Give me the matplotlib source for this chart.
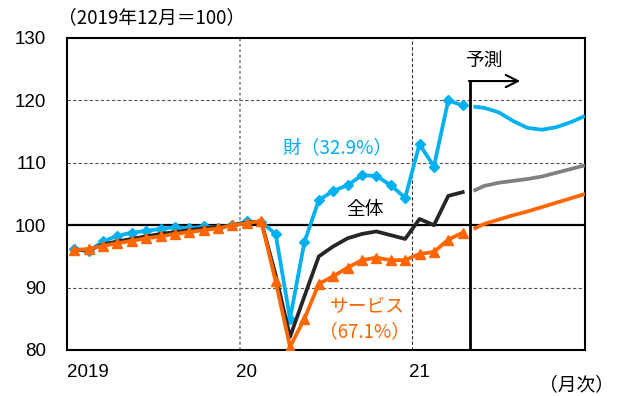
import matplotlib
matplotlib.use("Agg")
import matplotlib.pyplot as plt

plt.rcParams['font.family'] = ['Liberation Sans', 'Noto Sans CJK JP', 'DejaVu Sans']
JP = ['Noto Sans CJK JP', 'DejaVu Sans']

# Monthly index: 0 = 2019-01 ... 27 = 2021-04
months = list(range(28))
goods = [96.2, 95.8, 97.4, 98.3, 98.8, 99.1, 99.4, 99.7, 99.5, 99.8, 99.6, 100.0,
         100.6, 100.5, 98.6, 85.0, 97.3, 104.0, 105.5, 106.4, 108.0, 107.9, 106.4, 104.4,
         113.0, 109.4, 120.0, 119.2]
services = [96.0, 96.2, 96.7, 97.1, 97.5, 97.9, 98.2, 98.6, 98.9, 99.2, 99.5, 100.0,
            100.3, 100.7, 91.0, 80.5, 85.0, 90.6, 91.8, 93.2, 94.4, 94.8, 94.4, 94.4,
            95.4, 95.7, 97.7, 98.8]
total = [96.1, 96.0, 96.9, 97.4, 97.8, 98.2, 98.6, 98.9, 99.2, 99.5, 99.7, 100.0,
         100.4, 100.6, 92.0, 82.1, 88.6, 95.0, 96.6, 97.9, 98.6, 99.0, 98.4, 97.8,
         101.0, 100.0, 104.7, 105.3]

# Forecast (months as fractional index)
fc_x = [27.75, 28.5, 29.5, 30.5, 31.5, 32.5, 33.5, 34.5, 35.5]
fc_goods = [119.0, 118.8, 118.1, 116.7, 115.6, 115.3, 115.7, 116.5, 117.5]
fc_total = [105.5, 106.3, 106.8, 107.1, 107.4, 107.8, 108.4, 109.0, 109.6]
fc_services = [99.4, 100.2, 100.9, 101.6, 102.2, 102.9, 103.6, 104.3, 105.0]

xtick_pos = [-0.5, 12, 24]
xtick_labels = ['2019', '20', '21']
yticks = [80, 90, 100, 110, 120, 130]

BLUE = '#00B0F0'
ORANGE = '#FF6600'
BLACK = '#262626'
GRAY = '#808080'

fig = plt.figure(figsize=(6.21, 3.96), dpi=100)
ax = fig.add_axes([67/621, 1-350/396, (585-67)/621, (350-38)/396])

ax.set_xlim(-0.5, 35.5)
ax.set_ylim(80, 130)

# grid lines
for y in [90, 110, 120]:
    ax.axhline(y, color='#555555', lw=0.8, ls=(0, (3, 2)), zorder=1)
ax.axvline(11.5, color='#888888', lw=1.3, ls=(0, (1.5, 1.5)), zorder=1)
ax.axvline(23.5, color='#333333', lw=0.8, ls=(0, (3, 2)), zorder=1)
ax.axhline(100, color='black', lw=1.6, zorder=2)

lw = 2.7
ax.plot(months, goods, color=BLUE, lw=lw, marker='D', ms=5.5, zorder=3)
ax.plot(months, total, color=BLACK, lw=lw, zorder=4)
ax.plot(months, services, color=ORANGE, lw=lw, marker='^', ms=7.5, zorder=5)

ax.plot(fc_x, fc_goods, color=BLUE, lw=lw, zorder=3, solid_capstyle='butt')
ax.plot(fc_x, fc_total, color=GRAY, lw=lw, zorder=4, solid_capstyle='butt')
ax.plot(fc_x, fc_services, color=ORANGE, lw=lw, zorder=5, solid_capstyle='butt')

# forecast marker
ax.plot([27.5, 27.5], [80, 123.1], color='black', lw=2, zorder=6, solid_capstyle='butt')
ax.annotate('', xy=(31.0, 123.1), xytext=(27.43, 123.1),
            arrowprops=dict(arrowstyle='->', lw=1.5, color='black', mutation_scale=22,
                            shrinkA=0, shrinkB=0), zorder=6)
ax.text(28.45, 126.4, '予測', ha='center', va='center', fontsize=13.5, family=JP)

ax.text(18.3, 112.4, '財（32.9%）', ha='center', va='center', fontsize=13.5, color=BLUE, family=JP)
ax.text(20.2, 102.5, '全体', ha='center', va='center', fontsize=13.5, color='black', family=JP)
ax.text(20.4, 87.0, 'サービス', ha='center', va='center', fontsize=13.5, color=ORANGE, family=JP)
ax.text(20.2, 82.9, '（67.1%）', ha='center', va='center', fontsize=13.5, color=ORANGE, family=JP)

ax.set_yticks(yticks)
ax.set_yticklabels([str(v) for v in yticks], fontsize=13.5)
ax.set_xticks(xtick_pos)
ax.set_xticklabels(xtick_labels, fontsize=13.5)
ax.get_xticklabels()[0].set_horizontalalignment('left')
ax.tick_params(axis='y', length=0, pad=15)
ax.tick_params(axis='x', length=0, pad=10)

for s in ax.spines.values():
    s.set_linewidth(1.5)
    s.set_color('black')

fig.text(58/621, 1-18/396, '（2019年12月＝100）', ha='left', va='center', fontsize=13.5, family=JP)
fig.text(614/621, 1-385/396, '（月次）', ha='right', va='center', fontsize=13.5, family=JP)

fig.savefig('out.png', dpi=100)
